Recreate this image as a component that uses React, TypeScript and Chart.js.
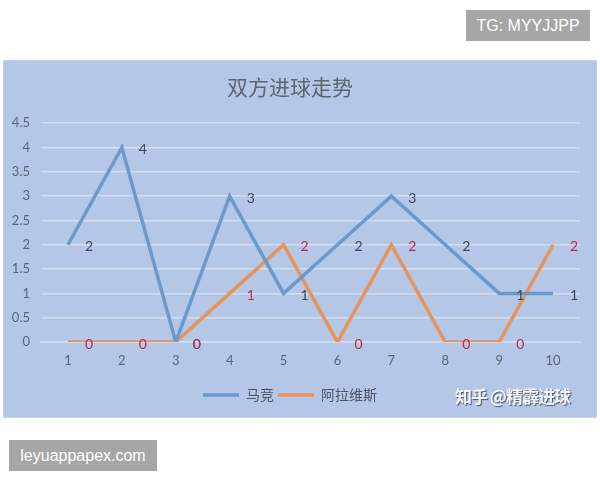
import React, { useEffect, useRef } from "react";
import { Chart, registerables } from "chart.js";

Chart.register(...registerables);

const rounds = ["1", "2", "3", "4", "5", "6", "7", "8", "9", "10"];
const atleticoGoals = [2, 4, 0, 3, 1, 2, 3, 2, 1, 1];
const alavesGoals = [0, 0, 0, 1, 2, 0, 2, 0, 0, 2];
const seriesNames = ["马竞", "阿拉维斯"];
const lineColors = ["#6a9acb", "#e8935a"];
const labelColors = ["#3f4756", "#c0264f"];
const chartTitle = "双方进球走势";

const valueLabels = {
  id: "valueLabels",
  afterDatasetsDraw(chart: any) {
    const ctx = chart.ctx;
    chart.data.datasets.forEach((ds: any, i: number) => {
      const meta = chart.getDatasetMeta(i);
      ctx.save();
      ctx.font = '14px Lato, "Noto Sans", sans-serif';
      ctx.fillStyle = labelColors[i];
      ctx.textAlign = "left";
      ctx.textBaseline = "middle";
      meta.data.forEach((pt: any, j: number) => {
        ctx.fillText(String(ds.data[j]), pt.x + 17, pt.y + 2);
      });
      ctx.restore();
    });
  },
};

export default function App() {
  const ref = useRef<HTMLCanvasElement>(null);

  useEffect(() => {
    if (!ref.current) return;
    const chart = new Chart(ref.current, {
      type: "line",
      data: {
        labels: rounds,
        datasets: [
          {
            label: seriesNames[0],
            data: atleticoGoals,
            borderColor: lineColors[0],
            backgroundColor: lineColors[0],
            borderWidth: 3.5,
            pointRadius: 0,
            tension: 0,
          },
          {
            label: seriesNames[1],
            data: alavesGoals,
            borderColor: lineColors[1],
            backgroundColor: lineColors[1],
            borderWidth: 3.5,
            pointRadius: 0,
            tension: 0,
          },
        ],
      },
      options: {
        responsive: false,
        animation: false,
        layout: { padding: { left: 0, right: 20, top: 0, bottom: 68 } },
        scales: {
          x: {
            offset: true,
            grid: { display: false, drawTicks: false },
            border: { display: true, color: "#d3ddef", width: 1.5 },
            ticks: {
              padding: 11,
              color: "#5b6577",
              font: { family: 'Lato, "Noto Sans", sans-serif', size: 13 },
            },
            afterFit: (s: any) => {
              s.height = 42;
            },
          },
          y: {
            min: 0,
            max: 4.5,
            ticks: {
              stepSize: 0.5,
              padding: 11,
              color: "#5b6577",
              font: { family: 'Lato, "Noto Sans", sans-serif', size: 13 },
              callback: (v: any) => String(Number(v)),
            },
            grid: { color: "#d3ddef", lineWidth: 1.5, drawTicks: false },
            border: { display: false },
            afterFit: (s: any) => {
              s.width = 41;
            },
          },
        },
        plugins: {
          title: {
            display: true,
            text: chartTitle,
            color: "#5d6472",
            font: { family: '"Noto Sans CJK SC", sans-serif', size: 21, weight: "normal", lineHeight: 1.2 },
            padding: { top: 74, bottom: 24 },
          },
          legend: {
            position: "bottom",
            labels: {
              usePointStyle: true,
              pointStyle: "line",
              pointStyleWidth: 36,
              padding: 4,
              color: "#4d5566",
              font: { family: '"Noto Sans CJK SC", sans-serif', size: 14 },
            },
          },
          tooltip: { enabled: false },
        },
      },
      plugins: [valueLabels],
    } as any);
    return () => chart.destroy();
  }, []);

  return (
    <div style={{ position: "absolute", left: 0, top: 0, width: 600, height: 480, background: "#ffffff", overflow: "hidden" }}>
      <div
        style={{
          position: "absolute",
          left: 3,
          top: 60,
          width: 592,
          height: 356,
          background: "#b4c7e6",
          border: "1px solid #c3d1ea",
        }}
      />
      <canvas ref={ref} width={600} height={480} style={{ position: "absolute", left: 0, top: 0 }} />
      <div
        style={{
          position: "absolute",
          left: 455,
          top: 383,
          fontFamily: '"Noto Sans CJK SC", sans-serif',
          fontSize: 17,
          fontWeight: 700,
          letterSpacing: -1,
          color: "#f4f6fb",
          textShadow: "1px 1px 1px #4a5568",
          whiteSpace: "nowrap",
        }}
      >
        知乎 @精霹进球
      </div>
      <div
        style={{
          position: "absolute",
          left: 466,
          top: 10,
          width: 124,
          height: 31,
          background: "#a6a6a6",
          color: "#ffffff",
          fontFamily: '"Liberation Sans", Arial, sans-serif',
          fontSize: 16,
          lineHeight: "31px",
          textAlign: "center",
        }}
      >
        TG: MYYJJPP
      </div>
      <div
        style={{
          position: "absolute",
          left: 9,
          top: 440,
          width: 148,
          height: 31,
          background: "#a6a6a6",
          color: "#ffffff",
          fontFamily: '"Liberation Sans", Arial, sans-serif',
          fontSize: 16,
          lineHeight: "31px",
          textAlign: "center",
        }}
      >
        leyuappapex.com
      </div>
    </div>
  );
}
